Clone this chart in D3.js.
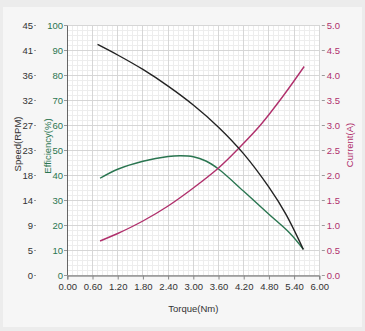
<!DOCTYPE html>
<html><head><meta charset="utf-8">
<script src="https://cdn.jsdelivr.net/npm/d3@7"></script>
<style>html,body{margin:0;padding:0;background:#ececec;}svg{display:block;}</style>
</head><body>
<svg id="c" width="365" height="331"></svg>
<script>
// ---- data ----
const torqueTicks = [0, 0.6, 1.2, 1.8, 2.4, 3.0, 3.6, 4.2, 4.8, 5.4, 6.0];
const torqueTickLabels = ["0.00","0.60","1.20","1.80","2.40","3.00","3.60","4.20","4.80","5.40","6.00"];
const speedTicks = [0, 4.5, 9, 13.5, 18, 22.5, 27, 31.5, 36, 40.5, 45];
const speedTickLabels = ["0","5","9","14","18","23","27","32","36","41","45"];
const effTicks = [0,10,20,30,40,50,60,70,80,90,100];
const currentTicks = [0,0.5,1,1.5,2,2.5,3,3.5,4,4.5,5];

const speedTorque = [0.72, 1.2, 1.8, 2.4, 3.0, 3.6, 4.2, 4.8, 5.2, 5.62];
const speedValues = [41.5, 39.6, 37.0, 34.0, 30.6, 26.6, 21.8, 15.8, 11.0, 4.6];

const effTorque = [0.78, 1.2, 1.8, 2.4, 2.7, 3.0, 3.3, 3.6, 4.2, 4.8, 5.3, 5.62];
const effValues = [38.7, 42.3, 45.5, 47.4, 47.7, 47.3, 45.6, 42.4, 33.5, 24.3, 16.7, 10.3];

const currentTorque = [0.78, 1.2, 1.8, 2.4, 3.0, 3.6, 4.1, 4.6, 5.13, 5.64];
const currentValues = [0.68, 0.83, 1.08, 1.38, 1.74, 2.14, 2.55, 3.0, 3.57, 4.17];

// ---- layout ----
const svg = d3.select("#c");
const L = 67.3, R = 319.3, T = 25, B = 275;
const cSpeed = "#222222", cEff = "#2a7550", cCur = "#b0306c", cText = "#333333";
const fs = "9.5px";

svg.append("rect").attr("x",0).attr("y",0).attr("width",365).attr("height",331).attr("fill","#ececec");
svg.append("rect").attr("x",3).attr("y",7).attr("width",359).attr("height",320).attr("fill","#f6f6f6");

const x = d3.scaleLinear().domain([0,6]).range([L,R]);
const yEff = d3.scaleLinear().domain([0,100]).range([B,T]);
const ySpeed = d3.scaleLinear().domain([0,45]).range([B,T]);
const yCur = d3.scaleLinear().domain([0,5]).range([B,T]);

svg.append("rect").attr("x",L).attr("y",T).attr("width",R-L).attr("height",B-T).attr("fill","#ffffff");

// grid
const g = svg.append("g");
const minorX = d3.range(0, 6.0001, 0.12);
const minorY = d3.range(0, 100.001, 2);
g.selectAll(".mx").data(minorX).join("line")
  .attr("x1",d=>x(d)).attr("x2",d=>x(d)).attr("y1",T).attr("y2",B)
  .attr("stroke","#ededed").attr("stroke-width",1).attr("shape-rendering","crispEdges");
g.selectAll(".my").data(minorY).join("line")
  .attr("x1",L).attr("x2",R).attr("y1",d=>yEff(d)).attr("y2",d=>yEff(d))
  .attr("stroke","#ededed").attr("stroke-width",1).attr("shape-rendering","crispEdges");
g.selectAll(".Mx").data(torqueTicks).join("line")
  .attr("x1",d=>x(d)).attr("x2",d=>x(d)).attr("y1",T).attr("y2",B)
  .attr("stroke","#d6d6d6").attr("stroke-width",1).attr("shape-rendering","crispEdges");
g.selectAll(".My").data(effTicks).join("line")
  .attr("x1",L).attr("x2",R).attr("y1",d=>yEff(d)).attr("y2",d=>yEff(d))
  .attr("stroke","#d6d6d6").attr("stroke-width",1).attr("shape-rendering","crispEdges");

const font = "Arial, 'Liberation Sans', sans-serif";

// bottom axis
const xAxis = d3.axisBottom(x).tickValues(torqueTicks).tickSize(4).tickPadding(4)
  .tickFormat((d,i)=>torqueTickLabels[i]);
const gx = svg.append("g").attr("transform",`translate(0,${B+0.5})`).call(xAxis);
gx.select(".domain").attr("stroke","#666");
gx.selectAll(".tick line").attr("stroke","#888");
gx.selectAll("text").attr("fill",cText).style("font-family",font).style("font-size",fs);

// efficiency axis (left, on plot edge)
const effAxis = d3.axisLeft(yEff).tickValues(effTicks).tickSize(3).tickPadding(1).tickSizeOuter(0);
const ge = svg.append("g").attr("transform",`translate(${L-0.3},0)`).call(effAxis);
ge.select(".domain").attr("stroke","#666");
ge.selectAll(".tick line").attr("stroke","#999");
ge.selectAll("text").attr("fill",cEff).style("font-family",font).style("font-size",fs);

// speed axis (left, outer)
const spAxis = d3.axisLeft(ySpeed).tickValues(speedTicks).tickSize(2).tickPadding(1)
  .tickFormat((d,i)=>speedTickLabels[i]);
const gs = svg.append("g").attr("transform",`translate(36,0)`).call(spAxis);
gs.select(".domain").remove();
gs.selectAll(".tick line").attr("stroke","#999");
gs.selectAll("text").attr("fill",cText).style("font-family",font).style("font-size",fs);

// current axis (right)
const curAxis = d3.axisRight(yCur).tickValues(currentTicks).tickSize(3).tickPadding(2)
  .tickFormat(d3.format(".1f"));
const gc = svg.append("g").attr("transform",`translate(${R+2.5},0)`).call(curAxis);
gc.select(".domain").remove();
gc.selectAll(".tick line").attr("stroke","#999");
gc.selectAll("text").attr("fill",cCur).style("font-family",font).style("font-size",fs);

// axis titles
svg.append("text").attr("x",(L+R)/2).attr("y",312).attr("text-anchor","middle")
  .attr("fill",cText).style("font-family",font).style("font-size",fs).text("Torque(Nm)");
svg.append("text").attr("transform","translate(20.5,144) rotate(-90)").attr("text-anchor","middle")
  .attr("fill",cText).style("font-family",font).style("font-size",fs).text("Speed(RPM)");
svg.append("text").attr("transform","translate(51,146) rotate(-90)").attr("text-anchor","middle")
  .attr("fill",cEff).style("font-family",font).style("font-size",fs).text("Efficiency(%)");
svg.append("text").attr("transform","translate(353,145) rotate(-90)").attr("text-anchor","middle")
  .attr("fill",cCur).style("font-family",font).style("font-size",fs).text("Current(A)");

// lines
function draw(xs, ys, yScale, color){
  const line = d3.line().x((d,i)=>x(xs[i])).y((d,i)=>yScale(ys[i])).curve(d3.curveCatmullRom.alpha(0.5));
  svg.append("path").datum(ys).attr("d",line).attr("fill","none")
    .attr("stroke",color).attr("stroke-width",1.4);
}
draw(effTorque, effValues, yEff, cEff);
draw(currentTorque, currentValues, yCur, cCur);
draw(speedTorque, speedValues, ySpeed, cSpeed);
</script>
</body></html>
